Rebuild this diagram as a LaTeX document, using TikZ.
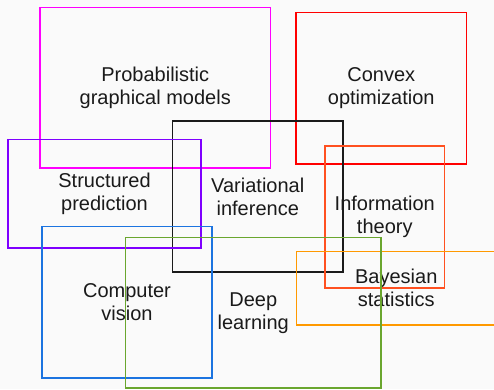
\documentclass[tikz,border=0pt]{standalone}
\usepackage{fontspec}
\setmainfont{Liberation Sans}
\definecolor{bg}{HTML}{FAFAFA}
\definecolor{txt}{HTML}{1A1A1A}
\definecolor{cmag}{HTML}{FF00FF}
\definecolor{cred}{HTML}{FF0000}
\definecolor{cblk}{HTML}{1A1A1A}
\definecolor{cpur}{HTML}{7F00FF}
\definecolor{corr}{HTML}{FF5020}
\definecolor{cora}{HTML}{FF9900}
\definecolor{cblu}{HTML}{1C74E0}
\definecolor{cgrn}{HTML}{6AA62E}
\begin{document}
\begin{tikzpicture}[x=1pt,y=-1pt,
  topic/.style={draw=#1, line width=1.5pt, rectangle, inner sep=0pt, align=center,
    text=txt, font=\fontsize{20}{23}\selectfont}]
\fill[bg] (0,0) rectangle (494,389);
\useasboundingbox (0,0) rectangle (494,389);
\node[topic=cmag, minimum width=230.5pt, minimum height=160.5pt] (pgm) at (155.25,87.75) {Probabilistic\\graphical models};
\node[topic=cred, minimum width=170.5pt, minimum height=151.5pt] (cvx) at (381.25,88.25) {Convex\\optimization};
\node[topic=cblk, minimum width=170.5pt, minimum height=151pt] (vi) at (257.75,196.5) {Variational\\inference};
\node[topic=cpur, minimum width=193pt, minimum height=108.5pt] (sp) at (104.5,193.75) {Structured\\prediction};
\node[topic=corr, minimum width=119.5pt, minimum height=142pt] (it) at (384.75,217) {Information\\theory};
\node[topic=cora, minimum width=199.5pt, minimum height=73.5pt] (bs) at (396.25,288.25) {Bayesian\\statistics};
\node[topic=cblu, minimum width=170pt, minimum height=151.5pt] (cv) at (127,302.25) {Computer\\vision};
\node[topic=cgrn, minimum width=255.5pt, minimum height=150.5pt] (dl) at (253.25,312.75) {Deep\\learning};
\end{tikzpicture}
\end{document}
